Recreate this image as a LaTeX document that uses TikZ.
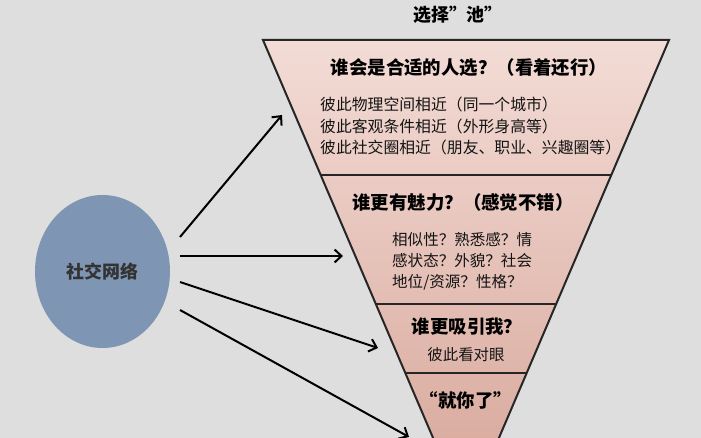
\documentclass[tikz,border=0pt]{standalone}
\usepackage{fontspec}
\setmainfont{Noto Sans CJK SC}
\usetikzlibrary{arrows.meta,shapes.geometric,calc}
\definecolor{bgcol}{HTML}{DEDEDE}
\definecolor{pinkA}{HTML}{F3DCD6}
\definecolor{pinkB}{HTML}{D6A497}
\definecolor{circcol}{HTML}{7F95B4}
\definecolor{edgecol}{HTML}{262626}
\begin{document}
\begin{tikzpicture}[x=1bp,y=-1bp,
  arr/.style={line width=2bp, draw=black, -{Straight Barb[length=7bp,width=13bp,line width=2bp]}},
  edge/.style={line width=2bp, draw=edgecol},
  head/.style={font=\fontsize{18.5}{22}\selectfont\bfseries, text=black, inner sep=0pt},
  body/.style={font=\fontsize{15.5}{21.5}\selectfont, text=black!92, align=left, anchor=west, inner sep=0pt}]
\useasboundingbox (0,0) rectangle (701,438);
\fill[bgcol] (0,0) rectangle (701,438);
\clip (0,0) rectangle (701,438);
% funnel
\coordinate (tl) at (263,40);
\coordinate (tr) at (669,40);
\coordinate (ap) at (466,515);
\shade[top color=pinkA, bottom color=pinkB] (tl) -- (tr) -- (ap) -- cycle;
\coordinate (d1l) at ($(tl)!0.2842!(ap)$);
\coordinate (d1r) at ($(tr)!0.2842!(ap)$);
\coordinate (d2l) at ($(tl)!0.5558!(ap)$);
\coordinate (d2r) at ($(tr)!0.5558!(ap)$);
\coordinate (d3l) at ($(tl)!0.7011!(ap)$);
\coordinate (d3r) at ($(tr)!0.7011!(ap)$);
\draw[edge, line join=miter] (tl) -- (tr) -- (ap) -- cycle;
\draw[edge] (d1l) -- (d1r);
\draw[edge] (d2l) -- (d2r);
\draw[edge] (d3l) -- (d3r);
% texts
\node[head, font=\fontsize{18}{22}\selectfont\bfseries] (title) at (458,15) {选择”池”};
\node[head] (h1) at (469,68) {谁会是合适的人选？（看着还行）};
\node[body, font=\fontsize{15.9}{21.8}\selectfont] (b1) at (320,126) {彼此物理空间相近（同一个城市）\\彼此客观条件相近（外形身高等）\\彼此社交圈相近（朋友、职业、兴趣圈等）};
\node[head] (h2) at (463,202) {谁更有魅力？（感觉不错）};
\node[body, font=\fontsize{15.6}{21}\selectfont] (b2) at (392,261) {相似性？熟悉感？情\\感状态？外貌？社会\\地位/资源？性格？};
\node[head] (h3) at (467,327) {谁更吸引我？};
\node[body, anchor=center] (b3) at (466,355) {彼此看对眼};
\node[head] (h4) at (466,400) {“就你了”};
% circle
\node[ellipse, fill=circcol, minimum width=135bp, minimum height=153bp, inner sep=0pt,
      font=\fontsize{18}{22}\selectfont\bfseries, text=black!80] (sn) at (102.5,271.5) {社交网络};
% arrows
\coordinate (s1) at (180,237); \coordinate (e1) at (282,115);
\coordinate (s2) at (180,256); \coordinate (e2) at (343,256);
\coordinate (s3) at (180,282); \coordinate (e3) at (378,348);
\coordinate (s4) at (180,310); \coordinate (e4) at (409,437);
\draw[arr] (s1) -- (e1);
\draw[arr] (s2) -- (e2);
\draw[arr] (s3) -- (e3);
\draw[arr] (s4) -- (e4);
\end{tikzpicture}
\end{document}
